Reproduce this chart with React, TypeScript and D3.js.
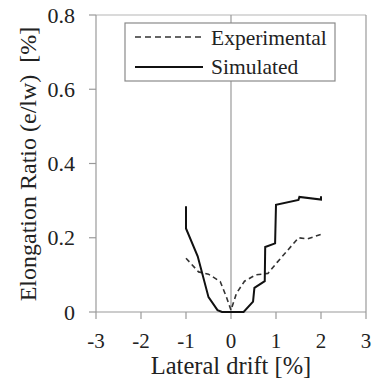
import * as d3 from 'd3';

const WIDTH = 374;
const HEIGHT = 383;

const xTicks = [-3, -2, -1, 0, 1, 2, 3];
const yTicks = [0, 0.2, 0.4, 0.6, 0.8];
const yTickLabels = ['0', '0.2', '0.4', '0.6', '0.8'];

// [drift %, elongation ratio %]
const experimental: [number, number][] = [
    [-1.0, 0.145], [-0.72, 0.108], [-0.5, 0.102], [-0.24, 0.082], [-0.1, 0.04],
    [0, 0.005], [0.12, 0.05], [0.3, 0.083], [0.55, 0.1], [0.82, 0.104],
    [1.02, 0.133], [1.25, 0.165], [1.5, 0.2], [1.7, 0.197], [2.0, 0.209],
];

const simulated: [number, number][] = [
    [-1.0, 0.285], [-1.0, 0.225], [-0.74, 0.15], [-0.5, 0.04], [-0.3, 0.005],
    [-0.2, 0], [0, 0], [0.28, 0], [0.49, 0.028], [0.52, 0.065], [0.75, 0.083],
    [0.76, 0.175], [0.98, 0.185], [1.0, 0.289], [1.5, 0.302], [1.52, 0.31],
    [2.0, 0.303], [2.0, 0.312],
];

const FONT = '"Liberation Serif", serif';
const FRAME = '#9a9a9a';
const INK = '#222';

export default function App() {
    const left = 96;
    const right = 366;
    const top = 15;
    const bottom = 312;

    const x = d3.scaleLinear().domain([-3, 3]).range([left, right]);
    const y = d3.scaleLinear().domain([0, 0.8]).range([bottom, top]);

    const line = d3.line<[number, number]>()
        .x((d) => x(d[0]))
        .y((d) => y(d[1]));

    return (
        <svg
            width={WIDTH}
            height={HEIGHT}
            fontFamily={FONT}
            style={{ position: 'absolute', left: 0, top: 0, background: '#fff', display: 'block' }}
        >
            {/* frame */}
            <line x1={left} x2={right} y1={top} y2={top} stroke="#b5b5b5" strokeWidth={1} />
            <line x1={right} x2={right} y1={top} y2={bottom} stroke={FRAME} strokeWidth={1.2} />
            <line x1={left} x2={left} y1={top} y2={bottom} stroke={FRAME} strokeWidth={1.2} />
            <line x1={x(0)} x2={x(0)} y1={top} y2={bottom} stroke={FRAME} strokeWidth={1.2} />

            {/* y ticks */}
            {yTicks.map((t) => (
                <line key={t} x1={left - 7} x2={left} y1={y(t)} y2={y(t)} stroke={FRAME} strokeWidth={1.2} />
            ))}

            {/* x axis */}
            <line x1={left} x2={right} y1={bottom} y2={bottom} stroke={FRAME} strokeWidth={1.2} />
            {xTicks.map((t) => (
                <g key={t}>
                    <line x1={x(t)} x2={x(t)} y1={bottom} y2={bottom + 7} stroke={FRAME} strokeWidth={1.2} />
                    <text x={x(t)} y={348} textAnchor="middle" fontSize={21} fill={INK} fontFamily={FONT}>
                        {String(t)}
                    </text>
                </g>
            ))}

            {/* y tick labels */}
            {yTicks.map((t, i) => (
                <text key={t} x={75} y={y(t)} dy="0.35em" textAnchor="end" fontSize={22} fill={INK} fontFamily={FONT}>
                    {yTickLabels[i]}
                </text>
            ))}

            {/* axis titles */}
            <text x={x(0)} y={374} textAnchor="middle" fontSize={24.5} fill={INK} fontFamily={FONT}>
                Lateral drift [%]
            </text>
            <text
                transform="translate(36,164) rotate(-90)"
                textAnchor="middle"
                fontSize={24}
                fill={INK}
                fontFamily={FONT}
                style={{ whiteSpace: 'pre' }}
            >
                {'Elongation Ratio (e/lw)  [%]'}
            </text>

            {/* series */}
            <path d={line(experimental) ?? ''} fill="none" stroke="#333" strokeWidth={1.6} strokeDasharray="5,3.5" />
            <path d={line(simulated) ?? ''} fill="none" stroke="#111" strokeWidth={2} />

            {/* legend */}
            <rect x={125} y={23} width={210} height={58} fill="#fff" stroke="#8a8a8a" strokeWidth={1.2} />
            <line x1={135} x2={203} y1={37} y2={37} stroke="#333" strokeWidth={1.6} strokeDasharray="6,4" />
            <line x1={135} x2={203} y1={67} y2={67} stroke="#111" strokeWidth={2.2} />
            <text x={211} y={44.5} fontSize={21.5} fill={INK} fontFamily={FONT}>Experimental</text>
            <text x={211} y={74} fontSize={21.5} fill={INK} fontFamily={FONT}>Simulated</text>
        </svg>
    );
}
